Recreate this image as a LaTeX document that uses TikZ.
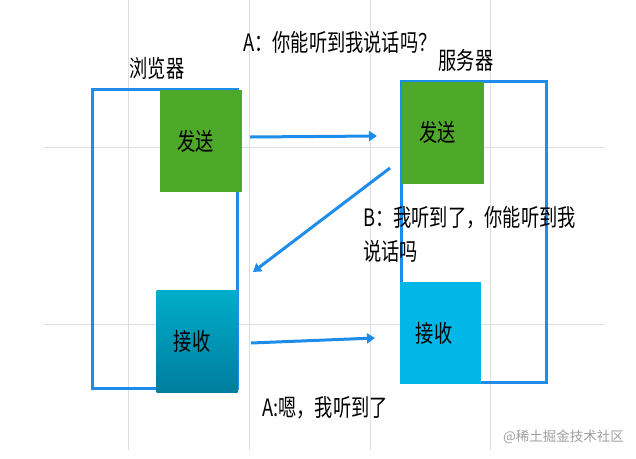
\documentclass[tikz,border=0pt]{standalone}
\usepackage{fontspec}
\usepackage{xcolor}
\usepackage{tikz}
\usetikzlibrary{positioning,calc,arrows.meta}

\newfontfamily\cjk[FakeStretch=0.76]{Noto Sans CJK SC}
\newfontfamily\cjkplain{Noto Sans CJK SC}

\definecolor{linkblue}{RGB}{30,140,235}
\definecolor{sendgreen}{RGB}{78,168,42}
\definecolor{recvcyan}{RGB}{0,183,232}
\definecolor{recvtop}{RGB}{0,174,203}
\definecolor{recvbot}{RGB}{0,125,158}
\definecolor{gridgray}{RGB}{222,222,222}

\tikzset{
  frame/.style={draw=linkblue, line width=3pt},
  sendbox/.style={fill=sendgreen, minimum width=82pt, minimum height=102pt, inner sep=0pt},
  recvbox/.style={minimum width=81pt, minimum height=102pt, inner sep=0pt},
  msg/.style={draw=linkblue, line width=3pt, -{Triangle[length=8pt,width=10pt]}},
  label/.style={inner sep=0pt, anchor=west}
}

\begin{document}
\begin{tikzpicture}[x=1pt, y=-1pt, font=\cjk\fontsize{24}{34}\selectfont]
  \useasboundingbox (0,0) rectangle (636,458);

  % Grid lines
  \foreach \x in {128, 249, 370, 490} {
    \draw[gridgray, line width=1pt] (\x, 0) -- (\x, 450);
  }
  \foreach \y in {147, 324} {
    \draw[gridgray, line width=1pt] (44, \y) -- (604, \y);
  }

  % Browser
  \draw[frame] (92,89) rectangle (237,388);
  \node at (157,68) {浏览器};
  \node[sendbox] (bsend) at (200.5,141) {\hspace*{-10pt}发送};
  \node[recvbox, top color=recvtop, bottom color=recvbot] (brecv) at (197,341) {\hspace*{-10pt}接收};

  % Server
  \draw[frame] (401,81) rectangle (546,382);
  \node at (466,60) {服务器};
  \node[sendbox] (ssend) at (442.5,132.5) {\hspace*{-10pt}发送};
  \node[recvbox, fill=recvcyan] (srecv) at (440,333) {\hspace*{-12pt}接收};

  % Messages
  \coordinate (m1a) at (250,137); \coordinate (m1b) at (377,136);
  \coordinate (m2a) at (390,168); \coordinate (m2b) at (253,272);
  \coordinate (m3a) at (251,343); \coordinate (m3b) at (375,338);
  \draw[msg] (m1a) -- (m1b);
  \draw[msg] (m2a) -- (m2b);
  \draw[msg] (m3a) -- (m3b);

  \node[label] (qa) at (243,42) {A：你能听到我说话吗？};
  \node[label, align=left] (qb) at (363,234) {B：我听到了，你能听到我\\说话吗};
  \node[label] (qc) at (262,408) {A:嗯，我听到了};

  % Watermark
  \node[label, text=black!38, font=\cjkplain\fontsize{13.5}{16}\selectfont] (wm) at (503,437) {@稀土掘金技术社区};
\end{tikzpicture}
\end{document}
